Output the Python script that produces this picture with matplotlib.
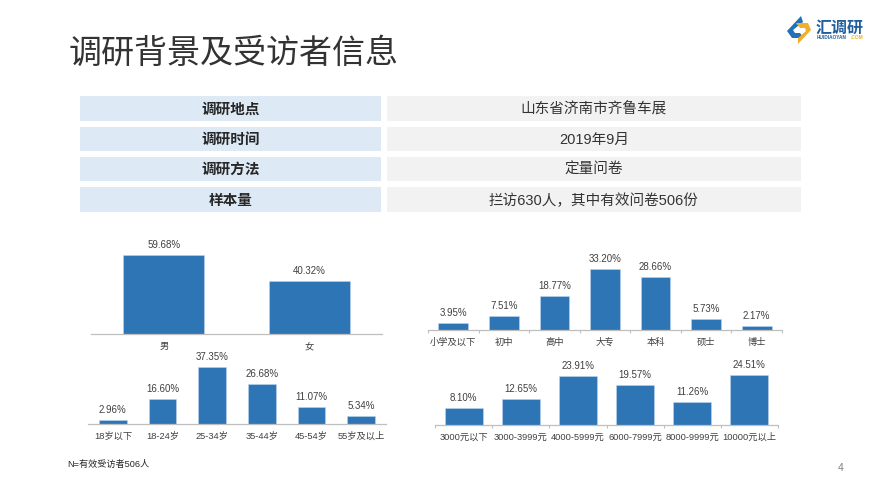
import matplotlib
matplotlib.use("Agg")
import matplotlib.pyplot as plt
from matplotlib.patches import Rectangle, Polygon

plt.rcParams['font.family'] = ['Liberation Sans', 'Noto Sans CJK SC', 'DejaVu Sans']

W, H = 880, 495

title = "调研背景及受访者信息"
table_left = ["调研地点", "调研时间", "调研方法", "样本量"]
table_right = ["山东省济南市齐鲁车展", "2019年9月", "定量问卷", "拦访630人，其中有效问卷506份"]

gender_labels = ["男", "女"]
gender_values = [59.68, 40.32]
age_labels = ["18岁以下", "18-24岁", "25-34岁", "35-44岁", "45-54岁", "55岁及以上"]
age_values = [2.96, 16.60, 37.35, 26.68, 11.07, 5.34]
edu_labels = ["小学及以下", "初中", "高中", "大专", "本科", "硕士", "博士"]
edu_values = [3.95, 7.51, 18.77, 33.20, 28.66, 5.73, 2.17]
income_labels = ["3000元以下", "3000-3999元", "4000-5999元", "6000-7999元", "8000-9999元", "10000元以上"]
income_values = [8.10, 12.65, 23.91, 19.57, 11.26, 24.51]

footnote = "N=有效受访者506人"
page_number = "4"

BAR = "#2E75B6"
TXT = "#404040"
AXIS = "#BFBFBF"

fig = plt.figure(figsize=(W / 100, H / 100), dpi=100, facecolor="white")

# page overlay in pixel coordinates (y downward)
page = fig.add_axes([0, 0, 1, 1])
page.set_xlim(0, W)
page.set_ylim(H, 0)
page.axis("off")

page.text(69, 54, title, fontsize=23.8, color="#333333", va="center", ha="left")

rows = [(96, 121), (127, 151), (157, 181), (187, 212)]
for (y0, y1), left, right in zip(rows, table_left, table_right):
    page.add_patch(Rectangle((80, y0), 301, y1 - y0, fc="#DEE9F6", ec="none"))
    page.add_patch(Rectangle((387, y0), 414, y1 - y0, fc="#F2F2F2", ec="none"))
    page.text(230.5, (y0 + y1) / 2 + 1, left, fontsize=10.5, color="#262626", ha="center",
              va="center", fontweight="bold")
    page.text(594, (y0 + y1) / 2 + 1, right, fontsize=10.5, color="#333333", ha="center", va="center")

page.text(67, 464, footnote, fontsize=6.6, color="#262626", va="center", ha="left")
page.text(841, 468, page_number, fontsize=7.5, color="#7F7F7F", va="center", ha="center")

# logo
page.add_patch(Polygon([(801, 16), (787, 31), (792, 38), (804, 38), (800, 33), (795, 33),
                        (793, 30), (803, 22)], fc="#2271B8", ec="none"))
page.add_patch(Polygon([(798, 44), (811, 30), (808, 23), (796, 23), (800, 28), (805, 28),
                        (806, 31), (798, 38)], fc="#F0AE2B", ec="none"))
page.text(840, 28, "汇调研", fontsize=11.5, color="#1F5F9E", fontweight="bold", ha="center", va="center")
page.text(817, 37.5, "HUIDIAOYAN", fontsize=3.4, color="#1F5F9E", fontweight="bold", ha="left", va="center")
page.text(851, 37.5, ".COM", fontsize=3.4, color="#F0AE2B", fontweight="bold", ha="left", va="center")


def chart(labels, values, x0, x1, baseline, px_per_unit, width, ticks, label_size=6.7):
    n = len(values)
    ymax = max(values) * 1.05
    height = ymax * px_per_unit
    ax = fig.add_axes([x0 / W, (H - baseline) / H, (x1 - x0) / W, height / H])
    ax.patch.set_alpha(0)
    xs = list(range(n))
    ax.bar(xs, values, width=width, color=BAR, edgecolor="#BDD7EE", linewidth=0.4)
    ax.set_xlim(-0.5, n - 0.5)
    ax.set_ylim(0, ymax)
    for s in ("top", "left", "right"):
        ax.spines[s].set_visible(False)
    ax.spines["bottom"].set_color(AXIS)
    ax.spines["bottom"].set_linewidth(0.9)
    ax.set_yticks([])
    ax.set_xticks(xs)
    ax.set_xticklabels(labels, fontsize=label_size, color=TXT, va="baseline")
    ax.tick_params(axis="x", length=0, pad=11)
    if ticks:
        ax.set_xticks([i - 0.5 for i in range(n + 1)], minor=True)
        ax.tick_params(axis="x", which="minor", length=2.2, color=AXIS, width=0.8)
    for x, v in zip(xs, values):
        ax.annotate(f"{v:.2f}%", (x, v), xytext=(0, 3.6), textcoords="offset points",
                    ha="center", va="bottom", fontsize=7, color=TXT, annotation_clip=False)


chart(gender_labels, gender_values, 91, 382, 334, 1.324, 0.557, False)
chart(age_labels, age_values, 88, 386, 424, 1.513, 0.56, False)
chart(edu_labels, edu_values, 428, 782, 330, 1.837, 0.59, True)
chart(income_labels, income_values, 435, 778, 425, 2.04, 0.665, True)

fig.savefig("out.png", dpi=100)
